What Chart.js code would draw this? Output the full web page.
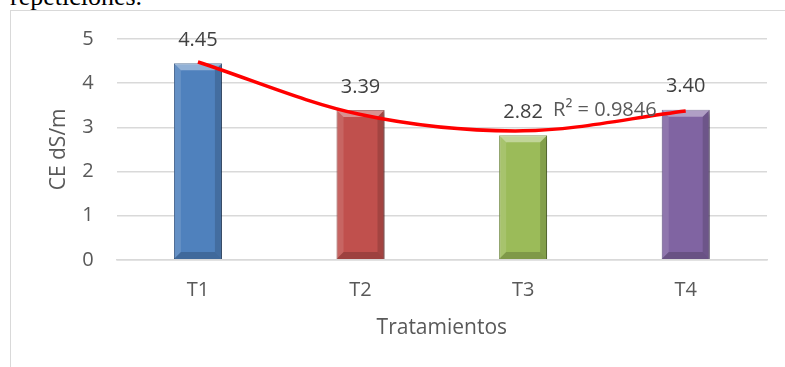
<!DOCTYPE html>
<html>
<head>
<meta charset="utf-8">
<title>CE dS/m por tratamiento</title>
<script src="https://cdn.jsdelivr.net/npm/chart.js@4/dist/chart.umd.min.js"></script>
<style>
  html, body { margin: 0; padding: 0; background: #fff; overflow: hidden; }
  #wrap { position: relative; width: 785px; height: 367px; }
  #caption {
    position: absolute; left: 10px; top: -16px;
    font-family: "Liberation Serif", serif; font-size: 26px; line-height: 26px;
    color: #000; white-space: nowrap;
  }
  #frame {
    position: absolute; left: 10px; top: 10px; width: 900px; height: 500px;
    border: 1px solid #d9d9d9;
  }
  #grafico { position: absolute; left: 0; top: 0; }
</style>
</head>
<body>
<div id="wrap">
  <div id="caption">repeticiones.</div>
  <div id="frame"></div>
  <canvas id="grafico" width="785" height="367"></canvas>
</div>
<script>
// datos
const tratamientos = ['T1', 'T2', 'T3', 'T4'];
const ceValores = [4.45, 3.39, 2.82, 3.40];
// linea de tendencia polinomica
const tendencia = [4.48, 3.29, 2.92, 3.37];
const r2Texto = 'R² = 0.9846';
const yTicks = [0, 1, 2, 3, 4, 5];

const coloresBarra = ['#4f81bd', '#c0504d', '#9bbb59', '#8064a2'];
const coloresClaros = ['#6f9bd5', '#d46f6c', '#b0cf72', '#9a7fbd'];
const coloresBorde = ['#2f5382', '#8a2f2d', '#6a8734', '#56427a'];

const fuente = "'Open Sans', 'Noto Sans', sans-serif";
const grisTexto = '#595959';

// degradado horizontal para dar volumen a las barras
function rellenoBarra(context) {
  const chart = context.chart;
  const i = context.dataIndex;
  const el = context.element;
  if (!chart.chartArea || !el || el.x === undefined) return coloresBarra[i];
  const w = el.width || 48;
  const g = chart.ctx.createLinearGradient(el.x - w / 2, 0, el.x + w / 2, 0);
  g.addColorStop(0, coloresBarra[i]);
  g.addColorStop(0.3, coloresClaros[i]);
  g.addColorStop(0.7, coloresBarra[i]);
  g.addColorStop(1, coloresBorde[i]);
  return g;
}

// sombra + bisel de las barras
const biselBarras = {
  id: 'biselBarras',
  beforeDatasetDraw(chart, args) {
    if (args.index !== 0) return;
    const ctx = chart.ctx;
    ctx.save();
    ctx.shadowColor = 'rgba(0,0,0,0.35)';
    ctx.shadowBlur = 5;
    ctx.shadowOffsetX = 2;
    ctx.shadowOffsetY = 2;
  },
  afterDatasetDraw(chart, args) {
    if (args.index !== 0) return;
    const ctx = chart.ctx;
    ctx.restore();
    const b = 7;
    chart.getDatasetMeta(0).data.forEach(bar => {
      const l = bar.x - bar.width / 2, r = bar.x + bar.width / 2;
      const t = bar.y, bt = bar.base;
      ctx.save();
      ctx.fillStyle = 'rgba(255,255,255,0.38)';
      ctx.beginPath();
      ctx.moveTo(l, t); ctx.lineTo(r, t); ctx.lineTo(r - b, t + b); ctx.lineTo(l + b, t + b);
      ctx.closePath(); ctx.fill();
      ctx.fillStyle = 'rgba(255,255,255,0.12)';
      ctx.beginPath();
      ctx.moveTo(l, t); ctx.lineTo(l + b, t + b); ctx.lineTo(l + b, bt - b); ctx.lineTo(l, bt);
      ctx.closePath(); ctx.fill();
      ctx.fillStyle = 'rgba(0,0,0,0.15)';
      ctx.beginPath();
      ctx.moveTo(r, t); ctx.lineTo(r - b, t + b); ctx.lineTo(r - b, bt - b); ctx.lineTo(r, bt);
      ctx.closePath(); ctx.fill();
      ctx.fillStyle = 'rgba(0,0,0,0.18)';
      ctx.beginPath();
      ctx.moveTo(l, bt); ctx.lineTo(l + b, bt - b); ctx.lineTo(r - b, bt - b); ctx.lineTo(r, bt);
      ctx.closePath(); ctx.fill();
      ctx.restore();
    });
  }
};

// etiquetas de valor sobre las barras y texto del R²
const etiquetas = {
  id: 'etiquetas',
  afterDatasetsDraw(chart) {
    const ctx = chart.ctx;
    const meta = chart.getDatasetMeta(0);
    ctx.save();
    ctx.font = '20px ' + fuente;
    ctx.fillStyle = '#404040';
    ctx.textAlign = 'center';
    ctx.textBaseline = 'middle';
    meta.data.forEach((bar, i) => {
      ctx.fillText(ceValores[i].toFixed(2), bar.x, bar.y - 23);
    });
    const x = chart.scales.x, y = chart.scales.y;
    ctx.fillStyle = grisTexto;
    ctx.textAlign = 'left';
    ctx.fillText(r2Texto, x.getPixelForValue(2) + 30, y.getPixelForValue(3.4) + 1);
    ctx.restore();
  }
};

const ctx = document.getElementById('grafico').getContext('2d');

new Chart(ctx, {
  data: {
    labels: tratamientos,
    datasets: [
      {
        type: 'bar',
        label: 'CE dS/m',
        data: ceValores,
        backgroundColor: rellenoBarra,
        borderColor: coloresBorde,
        borderWidth: 1,
        barPercentage: 0.295,
        categoryPercentage: 1,
        order: 2
      },
      {
        type: 'line',
        label: 'Tendencia',
        data: tendencia,
        borderColor: '#ff0000',
        borderWidth: 3.5,
        pointRadius: 0,
        tension: 0.33,
        fill: false,
        order: 1
      }
    ]
  },
  options: {
    responsive: false,
    animation: false,
    events: [],
    layout: { padding: { left: 42, right: 18, top: 39, bottom: 26 } },
    plugins: {
      legend: { display: false },
      tooltip: { enabled: false }
    },
    scales: {
      x: {
        grid: { display: false, drawTicks: false },
        border: { display: true, color: '#d9d9d9', width: 1.5 },
        ticks: { color: grisTexto, font: { family: fuente, size: 20 }, padding: 18 },
        title: {
          display: true, text: 'Tratamientos', color: grisTexto,
          font: { family: fuente, size: 21 }, padding: { top: -4, bottom: 0 }
        }
      },
      y: {
        min: 0,
        max: 5,
        afterBuildTicks(axis) { axis.ticks = yTicks.map(v => ({ value: v })); },
        grid: { color: '#d9d9d9', lineWidth: 1.5, drawTicks: false },
        border: { display: false },
        ticks: { color: grisTexto, font: { family: fuente, size: 20 }, padding: 23 },
        title: {
          display: true, text: 'CE dS/m', color: grisTexto,
          font: { family: fuente, size: 21 }, padding: { top: 4, bottom: -12 }
        }
      }
    }
  },
  plugins: [biselBarras, etiquetas]
});
</script>
</body>
</html>
